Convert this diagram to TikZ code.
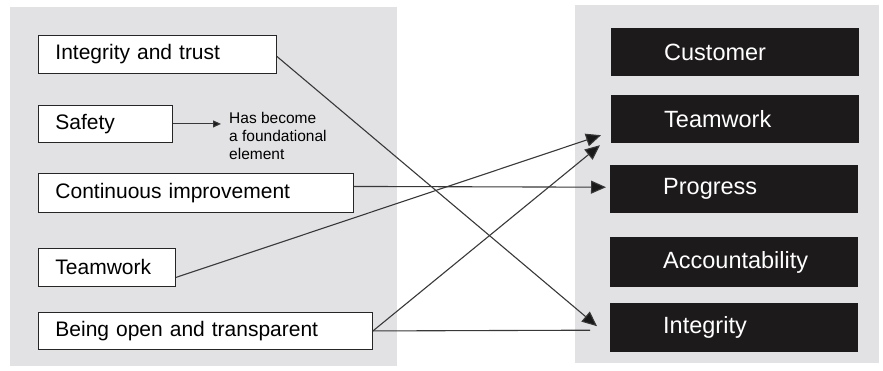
\documentclass[tikz,border=0pt]{standalone}
\usepackage{fontspec}
\setmainfont{Liberation Sans}
\usetikzlibrary{arrows.meta}
\definecolor{panelgray}{HTML}{E2E2E4}
\definecolor{linegray}{HTML}{383838}
\definecolor{boxblack}{HTML}{1C1A1A}
\begin{document}
\begin{tikzpicture}[x=1pt,y=-1pt,
  leftbox/.style={draw=black!85, line width=0.9pt, fill=white, anchor=north west,
    inner xsep=17pt, inner ysep=0pt, align=left, font=\fontsize{21}{24}\selectfont},
  rightbox/.style={fill=boxblack, text=white, anchor=north west, inner xsep=53pt,
    inner ysep=0pt, align=left, text width=142pt, font=\fontsize{23.5}{26}\selectfont},
  conn/.style={draw=linegray, line width=1.1pt},
  arr/.style={conn, -{Triangle[length=15pt,width=13pt,fill=black!90]}},
  smallarr/.style={conn, -{Triangle[length=8pt,width=7pt,fill=black!90]}},
]
\useasboundingbox (0,0) rectangle (883,371);
% panels
\fill[panelgray] (10,7) rectangle (397,366);
\fill[panelgray] (575,5) rectangle (879,363);

% left boxes
\node[leftbox, text width=204pt, minimum height=38pt] (A) at (38,35) {Integrity and trust};
\node[leftbox, text width=100pt, minimum height=37pt] (B) at (38,105) {Safety};
\node[leftbox, text width=281pt, minimum height=39pt] (C) at (38,173) {Continuous improvement};
\node[leftbox, text width=103pt, minimum height=38pt] (D) at (38,248) {Teamwork};
\node[leftbox, text width=300pt, minimum height=37pt] (E) at (38,312) {Being open and transparent};

% note
\node[anchor=west, align=left, inner sep=0pt, font=\fontsize{15.5}{18}\selectfont] (N) at (229,136)
  {Has become\\a foundational\\element};

% right boxes
\node[rightbox, minimum height=48pt] (R1) at (611,28) {Customer};
\node[rightbox, minimum height=48pt] (R2) at (611,95) {Teamwork};
\node[rightbox, minimum height=48pt] (R3) at (610,165) {Progress};
\node[rightbox, minimum height=50pt] (R4) at (610,237) {Accountability};
\node[rightbox, minimum height=49pt] (R5) at (610,303) {Integrity};

% connectors
\draw[smallarr] (B.east) -- ([xshift=-8pt]N.west |- B.east);
\draw[arr] ([yshift=-2pt]A.east) -- ([xshift=-13pt,yshift=1.5pt]R5.west);
\draw[arr] ([yshift=6.5pt]C.east) -- ([xshift=-4pt,yshift=2pt]R3.west);
\draw[arr] ([yshift=-10pt]D.east) -- ([xshift=-10pt,yshift=-16pt]R2.west);
\draw[arr] (E.east) -- ([xshift=-11pt,yshift=-26pt]R2.west);
\draw[conn] (E.east) -- ([xshift=-20pt,yshift=-2.5pt]R5.west);
\end{tikzpicture}
\end{document}
